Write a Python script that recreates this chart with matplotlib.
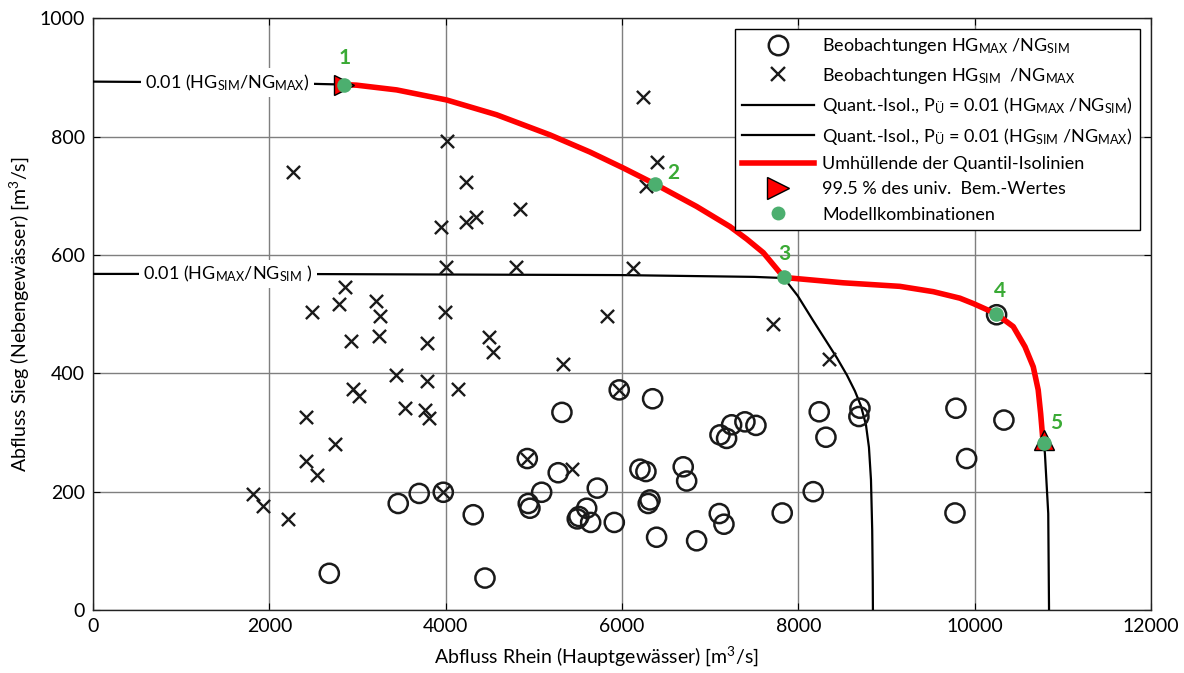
import matplotlib
matplotlib.use("Agg")
import matplotlib.pyplot as plt
from matplotlib.lines import Line2D

plt.rcParams['font.family'] = ['Lato', 'DejaVu Sans']
plt.rcParams['mathtext.default'] = 'regular'

# Observations: annual maxima on the main river with simultaneous tributary flow
obs_hgmax_x = [2680, 3462, 3700, 3973, 4313, 4446, 4926, 4937, 4956, 5089, 5277, 5319,
               5493, 5512, 5600, 5645, 5720, 5913, 5969, 6204, 6272, 6298, 6318, 6348,
               6393, 6695, 6734, 6847, 7104, 7112, 7157, 7187, 7244, 7395, 7520, 7818,
               8170, 8238, 8314, 8688, 8700, 9778, 9789, 9910, 10250, 10333]
obs_hgmax_y = [62, 180, 197, 199, 161, 54, 256, 180, 172, 199, 232, 334,
               154, 158, 172, 148, 206, 148, 372, 238, 234, 180, 186, 357,
               123, 242, 218, 117, 163, 296, 145, 290, 313, 318, 312, 164,
               200, 335, 292, 327, 341, 164, 341, 256, 499, 321]

# Observations: annual maxima on the tributary with simultaneous main-river flow
obs_ngmax_x = [1810, 1924, 2207, 2264, 2415, 2415, 2480, 2536, 2744, 2789, 2858, 2922,
               2952, 3016, 3209, 3243, 3255, 3436, 3538, 3765, 3788, 3791, 3814, 3947,
               3973, 3992, 4000, 4018, 4136, 4230, 4230, 4344, 4491, 4533, 4794, 4843,
               4926, 5334, 5429, 5826, 5969, 6128, 6234, 6272, 6394, 7716, 8351]
obs_ngmax_y = [196, 176, 154, 741, 326, 252, 503, 228, 280, 518, 546, 454,
               373, 361, 522, 463, 497, 397, 341, 338, 387, 451, 325, 647,
               199, 503, 579, 792, 374, 723, 655, 664, 462, 436, 580, 677,
               256, 415, 238, 497, 372, 578, 867, 716, 757, 483, 424]

# Quantile isoline P = 0.01 for HG_MAX / NG_SIM
iso_a_x = [0, 2000, 4000, 6000, 7000, 7500, 7838, 7994, 8165, 8302, 8439, 8552,
           8643, 8711, 8768, 8802, 8825, 8839, 8845, 8847]
iso_a_y = [568, 568, 567, 566, 564, 563, 561, 531, 490, 458, 426, 397,
           370, 345, 313, 275, 220, 135, 51, 0]

# Quantile isoline P = 0.01 for HG_SIM / NG_MAX (left and lower parts)
iso_b_left_x = [0, 1000, 2000, 2850]
iso_b_left_y = [893, 892, 891, 888]
iso_b_low_x = [10785, 10798, 10836, 10844, 10845]
iso_b_low_y = [283, 265, 163, 17, 0]

# Envelope of the quantile isolines
env_x = [2850, 2990, 3444, 4011, 4578, 5183, 5637, 6015, 6374, 6847, 7225, 7415,
         7603, 7838, 8510, 9152, 9532, 9834, 9985, 10240, 10439, 10572, 10666,
         10722, 10750, 10772, 10785]
env_y = [888, 887, 879, 862, 837, 803, 774, 747, 720, 682, 648, 627,
         604, 562, 553, 547, 538, 527, 518, 501, 479, 445, 411,
         372, 332, 293, 283]

# Model combinations
model_x = [2850, 6374, 7840, 10240, 10785]
model_y = [888, 720, 562, 501, 283]
model_labels = ['1', '2', '3', '4', '5']
label_offsets = [(0, 19), (13, 8), (0, 17), (3, 16), (9, 14)]

x_ticks = [0, 2000, 4000, 6000, 8000, 10000, 12000]
y_ticks = [0, 200, 400, 600, 800, 1000]

GREEN_DOT = '#4caf6f'
GREEN_TXT = '#3aaa35'

fig = plt.figure(figsize=(11.84, 6.73), dpi=100)
ax = fig.add_axes([0.0786, 0.0936, 0.8934, 0.8792])

ax.set_xlim(0, 12000)
ax.set_ylim(0, 1000)
ax.set_xticks(x_ticks)
ax.set_yticks(y_ticks)
ax.grid(True, color='#7f7f7f', linewidth=1.0)
ax.set_axisbelow(True)
ax.tick_params(direction='in', length=5, labelsize=14, top=True, right=True,
               colors='black', pad=6)
for s in ax.spines.values():
    s.set_linewidth(1.0)
    s.set_color('#222222')

ax.set_xlabel('Abfluss Rhein (Hauptgewässer) [m$^3$/s]', fontsize=14, labelpad=4)
ax.xaxis.set_label_coords(0.476, -0.058)
ax.set_ylabel('Abfluss Sieg (Nebengewässer) [m$^3$/s]', fontsize=14, labelpad=6)

ax.plot(iso_a_x, iso_a_y, color='black', lw=1.6, zorder=3, solid_joinstyle='round')
ax.plot(iso_b_left_x, iso_b_left_y, color='black', lw=1.6, zorder=3)
ax.plot(iso_b_low_x, iso_b_low_y, color='black', lw=1.6, zorder=3,
        solid_joinstyle='round')

ax.scatter(obs_hgmax_x, obs_hgmax_y, s=190, facecolors='none', edgecolors='#1a1a1a',
           linewidths=1.8, zorder=4)
ax.scatter(obs_ngmax_x, obs_ngmax_y, s=90, marker='x', color='#1a1a1a',
           linewidths=1.7, zorder=4)

ax.plot(env_x, env_y, color='#ff0000', lw=4.0, solid_capstyle='butt',
        solid_joinstyle='round', zorder=5)

ax.plot(model_x[0], model_y[0], marker='>', ms=15, mfc='#ff0000', mec='black',
        mew=1.0, zorder=6)
ax.plot(model_x[-1], model_y[-1] + 5, marker='^', ms=15, mfc='#ff0000', mec='black',
        mew=1.0, zorder=6)
ax.scatter(model_x, model_y, s=110, color=GREEN_DOT, zorder=7, linewidths=0)

for xv, yv, lab, off in zip(model_x, model_y, model_labels, label_offsets):
    ax.annotate(lab, (xv, yv), xytext=off, textcoords='offset points',
                ha='center', va='center', color=GREEN_TXT, fontsize=15,
                fontweight='bold', zorder=8)

box = dict(facecolor='white', edgecolor='none', pad=3)
ax.text(590, 891, '0.01 (HG$_{SIM}$/NG$_{MAX}$)', fontsize=13, ha='left',
        va='center', bbox=box, zorder=4)
ax.text(570, 568, '0.01 (HG$_{MAX}$/NG$_{SIM}$ )', fontsize=13, ha='left',
        va='center', bbox=box, zorder=4)

handles = [
    Line2D([], [], ls='none', marker='o', ms=14, mfc='none', mec='#1a1a1a', mew=1.8),
    Line2D([], [], ls='none', marker='x', ms=10, color='#1a1a1a', mew=1.7),
    Line2D([], [], color='black', lw=1.6),
    Line2D([], [], color='black', lw=1.6),
    Line2D([], [], color='#ff0000', lw=4.0),
    Line2D([], [], ls='none', marker='>', ms=16, mfc='#ff0000', mec='black', mew=1.0),
    Line2D([], [], ls='none', marker='o', ms=10, mfc=GREEN_DOT, mec='none'),
]
labels = [
    'Beobachtungen HG$_{MAX}$ /NG$_{SIM}$',
    'Beobachtungen HG$_{SIM}$  /NG$_{MAX}$',
    'Quant.-Isol., P$_{Ü}$ = 0.01 (HG$_{MAX}$ /NG$_{SIM}$)',
    'Quant.-Isol., P$_{Ü}$ = 0.01 (HG$_{SIM}$ /NG$_{MAX}$)',
    'Umhüllende der Quantil-Isolinien',
    '99.5 % des univ.  Bem.-Wertes',
    'Modellkombinationen',
]
leg = ax.legend(handles, labels, loc='upper right', fontsize=13, frameon=True,
                fancybox=False, edgecolor='black', framealpha=1, handlelength=4.0,
                handletextpad=0.43, labelspacing=0.52, borderpad=0.4,
                borderaxespad=0.6)
leg.get_frame().set_linewidth(1.0)
leg.set_zorder(10)

fig.savefig('out.png', dpi=100)
